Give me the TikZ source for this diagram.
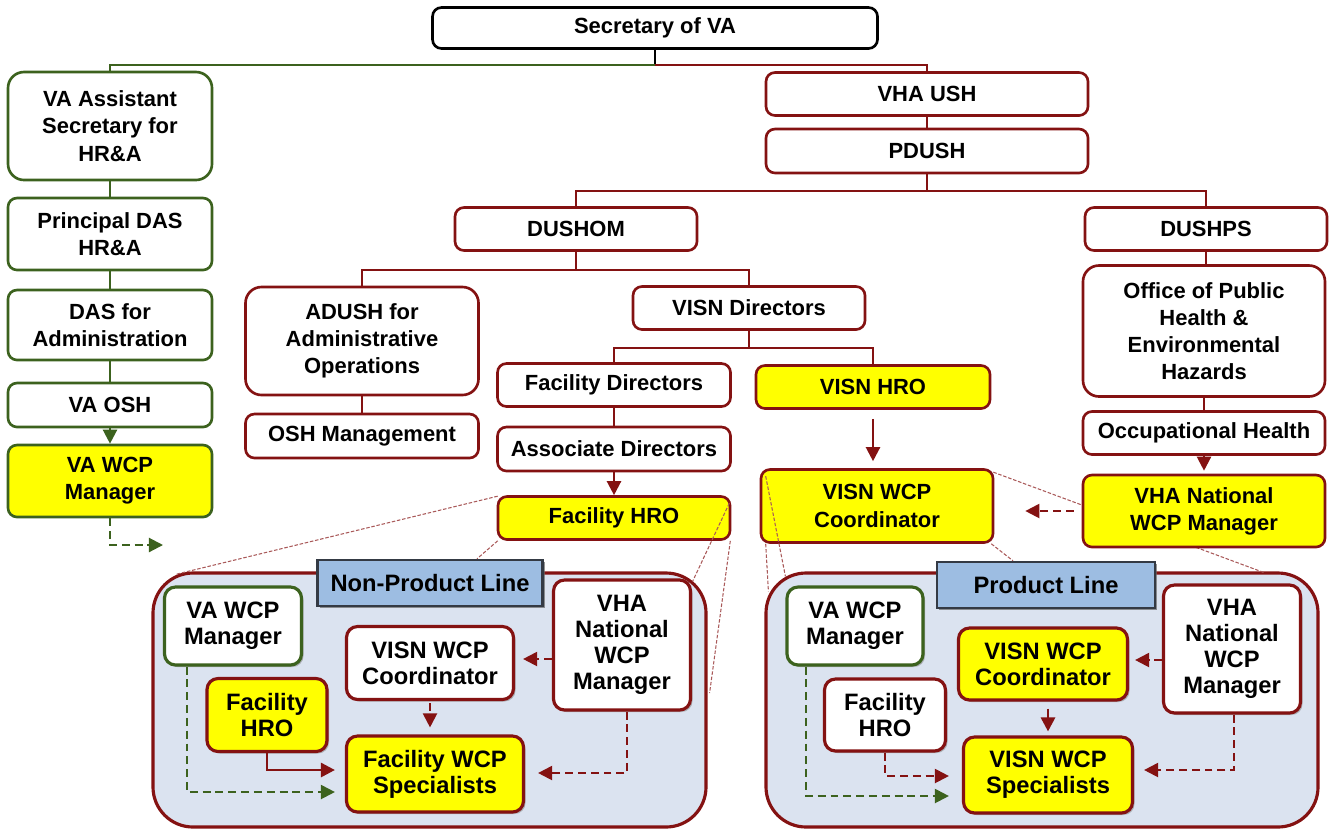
\documentclass[tikz,border=0pt]{standalone}
\usepackage{fontspec}
\setmainfont{Liberation Sans}
\usetikzlibrary{calc,shadows,arrows.meta}
\newlength\px \setlength\px{0.02cm}
\definecolor{vared}{RGB}{132,18,18}
\definecolor{vagreen}{RGB}{60,98,30}
\definecolor{hilite}{RGB}{255,255,0}
\definecolor{panelbg}{RGB}{219,227,240}
\definecolor{tagblue}{RGB}{157,189,226}
\definecolor{taggray}{RGB}{52,58,68}
\begin{document}
\begin{tikzpicture}[x=1\px, y=-1\px,
        box/.style={rectangle, rounded corners=9\px, draw=vared, line width=1.5pt, fill=white, align=center, inner sep=0pt, font=\fontsize{12.5}{15.5}\selectfont\bfseries},
        gbox/.style={box, draw=vagreen},
        hot/.style={fill=hilite},
        pbox/.style={box, rounded corners=11\px, line width=1.8pt, font=\fontsize{13.5}{14.8}\selectfont\bfseries, drop shadow={shadow xshift=2\px, shadow yshift=-2\px, fill=black!45, opacity=.6}},
        panel/.style={rectangle, rounded corners=40\px, draw=vared, line width=1.8pt, fill=panelbg},
        tag/.style={rectangle, draw=taggray, line width=1.4pt, fill=tagblue, inner sep=0pt, font=\fontsize{13.5}{16}\selectfont\bfseries, drop shadow={shadow xshift=2\px, shadow yshift=-2\px, fill=black!60, opacity=.7}},
        rline/.style={draw=vared, line width=1pt},
        gline/.style={draw=vagreen, line width=1pt},
        arr/.style={-{Triangle[length=8pt,width=8pt]}},
        rdash/.style={rline, line width=1.2pt, dash pattern=on 4.5pt off 2.8pt},
        gdash/.style={gline, line width=1.2pt, dash pattern=on 4.5pt off 2.8pt},
        zoomline/.style={draw=vared!70, line width=0.6pt, dash pattern=on 2pt off 1pt}
    ]
    \useasboundingbox (0,0) rectangle (1334,829);

    % panels
    \node[panel, minimum width=553\px, minimum height=254\px] (npl) at (429.5,700) {};
    \node[panel, minimum width=552\px, minimum height=254\px] (pl) at (1042,700) {};
    \node[tag, minimum width=225\px, minimum height=46\px] (npltag) at (430,583) {Non-Product Line};
    \node[tag, minimum width=218\px, minimum height=46\px] (pltag) at (1046,585) {Product Line};

    % VA side
    \node[box, draw=black, minimum width=445\px, minimum height=41\px] (secva) at (655,28) {Secretary of VA};
    \node[gbox, rounded corners=16\px, minimum width=204\px, minimum height=108\px] (asstsec) at (110,126) {VA Assistant\\Secretary for\\HR\&A};
    \node[gbox, minimum width=204\px, minimum height=72\px] (pdas) at (110,234) {Principal DAS\\HR\&A};
    \node[gbox, minimum width=204\px, minimum height=70\px] (dasadm) at (110,325) {DAS for\\Administration};
    \node[gbox, minimum width=204\px, minimum height=44\px] (vaosh) at (110,405) {VA OSH};
    \node[gbox, hot, minimum width=204\px, minimum height=72\px] (vawcp) at (110,481) {VA WCP\\Manager};
    \coordinate (vaout) at (163,545);

    % VHA side
    \node[box, minimum width=322\px, minimum height=43\px] (vhaush) at (927,94) {VHA USH};
    \node[box, minimum width=322\px, minimum height=44\px] (pdush) at (927,151) {PDUSH};
    \node[box, minimum width=242\px, minimum height=43\px] (dushom) at (576,229) {DUSHOM};
    \node[box, minimum width=242\px, minimum height=43\px] (dushps) at (1206,229) {DUSHPS};
    \node[box, rounded corners=16\px, minimum width=233\px, minimum height=108\px] (adush) at (362,341) {ADUSH for\\Administrative\\Operations};
    \node[box, minimum width=233\px, minimum height=44\px] (oshmgmt) at (362,436) {OSH Management};
    \node[box, minimum width=232\px, minimum height=43\px] (visndir) at (749,308) {VISN Directors};
    \node[box, minimum width=233\px, minimum height=43\px] (facdir) at (614,385) {Facility Directors};
    \node[box, hot, minimum width=234\px, minimum height=43\px] (visnhro) at (873,387) {VISN HRO};
    \node[box, minimum width=233\px, minimum height=44\px] (assocdir) at (614,449) {Associate Directors};
    \node[box, hot, minimum width=232\px, minimum height=43\px] (fachro) at (614,518) {Facility HRO};
    \node[box, hot, minimum width=232\px, minimum height=73\px] (visncoord) at (877,506) {VISN WCP\\Coordinator};
    \node[box, rounded corners=16\px, minimum width=242\px, minimum height=131\px] (ophe) at (1204,331) {Office of Public\\Health \&\\Environmental\\Hazards};
    \node[box, minimum width=242\px, minimum height=43\px] (occhealth) at (1204,433) {Occupational Health};

    % zoom lines
    \draw[zoomline] ($(fachro.north west)+(1,1)$) -- ($(npl.north west)+(24,3)$);
    \draw[zoomline] ($(fachro.south west)+(1,0)$) -- ($(npltag.north)+(47,0)$);
    \draw[zoomline] ($(fachro.north east)+(-2,8)$) -- ($(npl.north east)+(-15,10)$);
    \draw[zoomline] ($(fachro.south east)+(-1,0)$) -- ($(npl.east)+(2,-7)$);
    \draw[zoomline] ($(visncoord.north west)+(6,8)$) -- ($(pl.north west)+(21,5)$);
    \draw[zoomline] ($(visncoord.south west)+(6,0)$) -- ($(pl.north west)+(4,20)$);
    \draw[zoomline] ($(visncoord.south east)+(-3,0)$) -- ($(pltag.north)+(-33,0)$);
    \draw[zoomline] ($(visncoord.north east)+(-1,4)$) -- ($(pl.north east)+(-56,1)$);

    \node[box, hot, minimum width=242\px, minimum height=72\px] (vhanat) at (1204,511) {VHA National\\WCP Manager};

    % tree
    \draw[line width=1pt] (secva.south) -- ++(0,15) coordinate (j0);
    \draw[gline] (j0) -| (asstsec.north);
    \draw[rline] (j0) -| (vhaush.north);
    \draw[gline] (asstsec) -- (pdas);
    \draw[gline] (pdas) -- (dasadm);
    \draw[gline] (dasadm) -- (vaosh);
    \draw[gline, line width=1.3pt, arr] (vaosh) -- (vawcp);
    \draw[gdash, arr] (vawcp.south) |- (vaout);
    \draw[rline] (vhaush) -- (pdush);
    \draw[rline] (pdush.south) -- ++(0,17) coordinate (j1);
    \draw[rline] (j1) -| (dushom.north);
    \draw[rline] (j1) -| (dushps.north);
    \draw[rline] (dushom.south) -- ++(0,18) coordinate (j2);
    \draw[rline] (j2) -| (adush.north);
    \draw[rline] (j2) -| (visndir.north);
    \draw[rline] (visndir.south) -- ++(0,17) coordinate (j3);
    \draw[rline] (j3) -| (facdir.north);
    \draw[rline] (j3) -| (visnhro.north);
    \draw[rline] (adush) -- (oshmgmt);
    \draw[rline] (facdir) -- (assocdir);
    \draw[rline, line width=1.3pt, arr] (assocdir) -- (fachro);
    \draw[rline, line width=1.3pt, arr, shorten <=9\px, shorten >=7\px] (visnhro.south) -- (visnhro.south |- visncoord.north);
    \draw[rline] (dushps.south) -- (dushps.south |- ophe.north);
    \draw[rline] (ophe) -- (occhealth);
    \draw[rline, line width=1.3pt, arr, shorten >=3\px] (occhealth) -- (vhanat);
    \draw[rdash, arr, shorten <=8\px, shorten >=31\px] (vhanat.west) -- (vhanat.west -| visncoord.east);

    % non-product line
    \node[pbox, draw=vagreen, minimum width=137\px, minimum height=78\px] (vawcpA) at (233,626) {VA WCP\\Manager};
    \node[pbox, minimum width=167\px, minimum height=73\px] (visncoordA) at (430,663) {VISN WCP\\Coordinator};
    \node[pbox, minimum width=137\px, minimum height=130\px] (vhanatA) at (622,645) {VHA\\National\\WCP\\Manager};
    \node[pbox, hot, minimum width=120\px, minimum height=73\px] (fachroA) at (267,715) {Facility\\HRO};
    \node[pbox, hot, minimum width=177\px, minimum height=76\px] (specA) at (435,774) {Facility WCP\\Specialists};
    \draw[gdash, arr] ($(vawcpA.south)+(-46,0)$) |- ($(specA.west)+(-10,18)$);
    \draw[rline, line width=1.6pt, arr] (fachroA.south) |- ($(specA.west)+(-10,-4)$);
    \draw[rdash, arr, shorten <=2\px, shorten >=7\px] (visncoordA.south) -- (visncoordA.south |- specA.north);
    \draw[rdash, arr, shorten >=8\px] ($(vhanatA.west)+(0,14)$) -- ($(visncoordA.east)+(0,-4)$);
    \draw[rdash, arr] ($(vhanatA.south)+(5,0)$) |- ($(specA.east)+(13,-1)$);

    % product line
    \node[pbox, draw=vagreen, minimum width=136\px, minimum height=78\px] (vawcpB) at (855,626) {VA WCP\\Manager};
    \node[pbox, hot, minimum width=169\px, minimum height=72\px] (visncoordB) at (1043,664) {VISN WCP\\Coordinator};
    \node[pbox, minimum width=137\px, minimum height=128\px] (vhanatB) at (1232,649) {VHA\\National\\WCP\\Manager};
    \node[pbox, minimum width=121\px, minimum height=72\px] (fachroB) at (885,715) {Facility\\HRO};
    \node[pbox, hot, minimum width=169\px, minimum height=76\px] (specB) at (1048,775) {VISN WCP\\Specialists};
    \draw[gdash, arr] ($(vawcpB.south)+(-49,0)$) |- ($(specB.west)+(-13,21)$);
    \draw[rdash, arr] (fachroB.south) |- ($(specB.west)+(-13,1)$);
    \draw[rline, line width=1.6pt, arr, shorten <=7\px, shorten >=4\px] (specB.north |- visncoordB.south) -- (specB.north);
    \draw[rdash, arr, shorten >=6\px] ($(vhanatB.west)+(0,11)$) -- ($(visncoordB.east)+(0,-4)$);
    \draw[rdash, arr] ($(vhanatB.south)+(2,0)$) |- ($(specB.east)+(10,-5)$);
\end{tikzpicture}
\end{document}
